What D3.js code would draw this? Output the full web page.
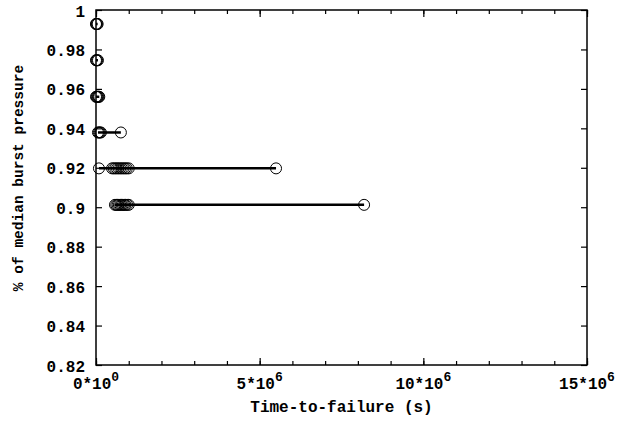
<!DOCTYPE html>
<html>
<head>
<meta charset="utf-8">
<script src="https://cdn.jsdelivr.net/npm/d3@7"></script>
<style>
  html, body { margin: 0; padding: 0; background: #fff; }
  svg { display: block; }
  text { font-family: "Liberation Mono", "DejaVu Sans Mono", monospace; font-weight: bold; fill: #000; }
</style>
</head>
<body>
<svg id="chart" width="617" height="421"></svg>
<script>
// Pressure levels (fraction of median burst pressure) tested
const pressureLevels = [0.9929, 0.9745, 0.9560, 0.9379, 0.9197, 0.9012];

// Times-to-failure (s) observed at each pressure level
const failureTimes = [
  [0, 10000, 30000, 50000],
  [0, 15000, 35000, 60000],
  [0, 20000, 40000, 60000, 80000, 100000],
  [60000, 90000, 120000, 150000, 760000],
  [90000, 490000, 540000, 590000, 640000, 690000, 740000, 790000, 840000, 890000, 940000, 1000000, 5500000],
  [580000, 620000, 660000, 700000, 740000, 780000, 820000, 860000, 900000, 950000, 1000000, 8190000]
];

// Axis ticks and labels
const xMajorTicks = [0, 5e6, 10e6, 15e6];
const xTickMantissa = ["0*10", "5*10", "10*10", "15*10"];
const xTickExponent = ["0", "6", "6", "6"];
const xMinorTicks = d3.range(0, 15e6 + 1, 1e6);
const yTicks = [0.82, 0.84, 0.86, 0.88, 0.9, 0.92, 0.94, 0.96, 0.98, 1];
const yTickLabels = ["0.82", "0.84", "0.86", "0.88", "0.9", "0.92", "0.94", "0.96", "0.98", "1"];

const xTitle = "Time-to-failure (s)";
const yTitle = "% of median burst pressure";

const svg = d3.select("#chart");
const plotLeft = 96, plotRight = 587, plotTop = 10, plotBottom = 365;

const x = d3.scaleLinear().domain([0, 15e6]).range([plotLeft, plotRight]);
const y = d3.scaleLinear().domain([0.82, 1]).range([plotBottom, plotTop]);

// Inward tick marks on all four sides
function tickStyle(g) {
  g.select(".domain").remove();
  g.selectAll(".tick line").attr("stroke", "#000").attr("stroke-width", 1.2);
}

svg.append("g").attr("transform", `translate(0,${plotBottom})`)
  .call(d3.axisBottom(x).tickValues(xMinorTicks).tickSize(-4).tickFormat(""))
  .call(tickStyle);
svg.append("g").attr("transform", `translate(0,${plotTop})`)
  .call(d3.axisTop(x).tickValues(xMinorTicks).tickSize(-4).tickFormat(""))
  .call(tickStyle);
svg.append("g").attr("transform", `translate(0,${plotBottom})`)
  .call(d3.axisBottom(x).tickValues(xMajorTicks).tickSize(-7).tickFormat(""))
  .call(tickStyle);
svg.append("g").attr("transform", `translate(0,${plotTop})`)
  .call(d3.axisTop(x).tickValues(xMajorTicks).tickSize(-7).tickFormat(""))
  .call(tickStyle);

const yAxisL = svg.append("g").attr("transform", `translate(${plotLeft},0)`)
  .call(d3.axisLeft(y).tickValues(yTicks).tickSize(-6).tickPadding(11)
    .tickFormat((d, i) => yTickLabels[i]))
  .call(tickStyle);
yAxisL.selectAll("text").attr("font-size", 16).attr("font-family", null).attr("fill", null).attr("dy", "0.38em");

svg.append("g").attr("transform", `translate(${plotRight},0)`)
  .call(d3.axisRight(y).tickValues(yTicks).tickSize(-6).tickFormat(""))
  .call(tickStyle);

// x tick labels written as mantissa*10^exponent
const xLab = svg.append("g");
xMajorTicks.forEach((v, i) => {
  const t = xLab.append("text")
    .attr("x", x(v))
    .attr("y", 389)
    .attr("text-anchor", "middle")
    .attr("font-size", 16);
  t.append("tspan").text(xTickMantissa[i]);
  t.append("tspan").attr("dy", -8).attr("font-size", 13).text(xTickExponent[i]);
});

// Plot frame
svg.append("rect")
  .attr("x", plotLeft).attr("y", plotTop)
  .attr("width", plotRight - plotLeft).attr("height", plotBottom - plotTop)
  .attr("fill", "none").attr("stroke", "#000").attr("stroke-width", 1.5);

// Lines through the failure times at each pressure level
const line = d3.line().x(d => x(d.t)).y(d => y(d.p));
const rows = pressureLevels.map((p, i) => failureTimes[i].map(t => ({ p, t })));

svg.append("g").selectAll("path").data(rows).join("path")
  .attr("d", line)
  .attr("fill", "none")
  .attr("stroke", "#000")
  .attr("stroke-width", 2.5);

// Circle markers for each failure
svg.append("g").selectAll("circle").data(rows.flat()).join("circle")
  .attr("cx", d => x(d.t))
  .attr("cy", d => y(d.p))
  .attr("r", 5.5)
  .attr("fill", "none")
  .attr("stroke", "#000")
  .attr("stroke-width", 1);

// Axis titles
svg.append("text")
  .attr("x", (plotLeft + plotRight) / 2)
  .attr("y", 412)
  .attr("text-anchor", "middle")
  .attr("font-size", 16)
  .text(xTitle);

svg.append("text")
  .attr("transform", `translate(23,178) rotate(-90)`)
  .attr("text-anchor", "middle")
  .attr("font-size", 14.5)
  .text(yTitle);
</script>
</body>
</html>
